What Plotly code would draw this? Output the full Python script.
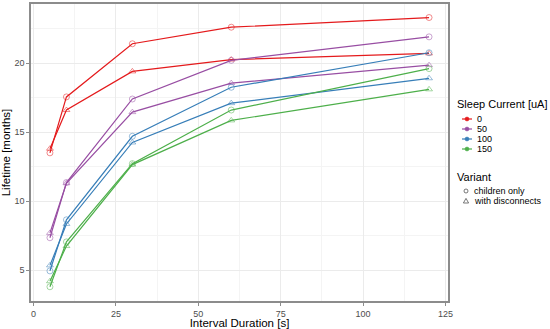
import plotly.graph_objects as go

intervals = [5, 10, 30, 60, 120]
currents = ["0", "50", "100", "150"]
colors = ["#E41A1C", "#984EA3", "#377EB8", "#4DAF4A"]

# Lifetime [months] per sleep current, variant "children only"
children_only = {
    "0":   [13.5, 17.55, 21.4, 22.6, 23.3],
    "50":  [7.35, 11.35, 17.4, 20.2, 21.9],
    "100": [4.95, 8.65, 14.7, 18.25, 20.75],
    "150": [3.8, 7.05, 12.72, 16.6, 19.6],
}
# Lifetime [months] per sleep current, variant "with disconnects"
with_disconnects = {
    "0":   [13.8, 16.6, 19.4, 20.25, 20.7],
    "50":  [7.7, 11.3, 16.45, 18.55, 19.85],
    "100": [5.35, 8.35, 14.25, 17.1, 18.9],
    "150": [4.2, 6.75, 12.65, 15.85, 18.1],
}
variants = ["children only", "with disconnects"]
symbols = ["circle-open", "triangle-up-open"]

W, H = 550, 329
ML, MR, MT, MB = 31, 102, 4, 28
PW, PH = W - ML - MR, H - MT - MB


def px(x):
    return (x - ML) / PW


def py(y):
    return (H - MB - y) / PH


fig = go.Figure()

for cur, col in zip(currents, colors):
    for data, sym in ((children_only, symbols[0]), (with_disconnects, symbols[1])):
        fig.add_trace(go.Scatter(
            x=intervals, y=data[cur], mode="lines+markers",
            line=dict(color=col, width=1.2),
            marker=dict(symbol=sym, size=6, color=col, opacity=0.5,
                        line=dict(width=1, color=col)),
            showlegend=False, hoverinfo="x+y"))

shapes = []
annotations = []
font_main = "Liberation Sans, Arial, sans-serif"

# Legend: Sleep Current
annotations.append(dict(x=px(455), y=py(104), xref="paper", yref="paper", xanchor="left",
                        yanchor="middle", showarrow=False, text="Sleep Current [uA]",
                        font=dict(size=11, color="black", family=font_main)))
for i, (cur, col) in enumerate(zip(currents, colors)):
    yy = 119 + 10 * i
    shapes.append(dict(type="line", xref="paper", yref="paper", x0=px(462), x1=px(472),
                       y0=py(yy), y1=py(yy), line=dict(color=col, width=1.2)))
    shapes.append(dict(type="circle", xref="paper", yref="paper", xsizemode="pixel",
                       ysizemode="pixel", xanchor=px(467), yanchor=py(yy),
                       x0=-2, x1=2, y0=-2, y1=2, fillcolor=col, line=dict(color=col, width=0.5)))
    annotations.append(dict(x=px(475), y=py(yy), xref="paper", yref="paper", xanchor="left",
                            yanchor="middle", showarrow=False, text=cur,
                            font=dict(size=9, color="black", family=font_main)))

# Legend: Variant
annotations.append(dict(x=px(455), y=py(177), xref="paper", yref="paper", xanchor="left",
                        yanchor="middle", showarrow=False, text="Variant",
                        font=dict(size=11, color="black", family=font_main)))
for i, v in enumerate(variants):
    yy = 191 + 10 * i
    if i == 0:
        shapes.append(dict(type="circle", xref="paper", yref="paper", xsizemode="pixel",
                           ysizemode="pixel", xanchor=px(466), yanchor=py(yy),
                           x0=-2, x1=2, y0=-2, y1=2, line=dict(color="#555555", width=0.8)))
    else:
        shapes.append(dict(type="path", xref="paper", yref="paper", xsizemode="pixel",
                           ysizemode="pixel", xanchor=px(466), yanchor=py(yy),
                           path="M -2.6,-2 L 2.6,-2 L 0,2.6 Z", line=dict(color="#555555", width=0.8)))
    annotations.append(dict(x=px(472), y=py(yy), xref="paper", yref="paper", xanchor="left",
                            yanchor="middle", showarrow=False, text=v,
                            font=dict(size=9, color="black", family=font_main)))

axis_common = dict(
    showgrid=True, gridcolor="#EBEBEB", gridwidth=1,
    showline=True, linecolor="#8C8C8C", linewidth=1.5, mirror=True,
    ticks="outside", ticklen=3, tickcolor="#8C8C8C", tickwidth=1,
    tickfont=dict(size=9, color="#4D4D4D", family=font_main),
    zeroline=False, automargin=False,
)

fig.update_layout(
    width=W, height=H,
    margin=dict(l=ML, r=MR, t=MT, b=MB),
    paper_bgcolor="white", plot_bgcolor="white",
    font=dict(family=font_main, color="black"),
    showlegend=False,
    xaxis=dict(range=[-0.75, 125.75], tickvals=[0, 25, 50, 75, 100, 125],
               title=dict(text="Interval Duration [s]", font=dict(size=11.5), standoff=0),
               minor=dict(showgrid=True, gridcolor="#F4F4F4", gridwidth=0.6,
                          tickvals=[12.5, 37.5, 62.5, 87.5, 112.5], ticklen=0),
               **axis_common),
    yaxis=dict(range=[2.77, 24.28], tickvals=[5, 10, 15, 20],
               title=dict(text="Lifetime [months]", font=dict(size=11.5), standoff=2),
               minor=dict(showgrid=True, gridcolor="#F4F4F4", gridwidth=0.6,
                          tickvals=[2.5, 7.5, 12.5, 17.5, 22.5], ticklen=0),
               **axis_common),
    shapes=shapes,
    annotations=annotations,
)

fig.write_html("out.html", config={"displayModeBar": False},
               post_script="document.body.style.margin='0';document.body.style.overflow='hidden';")
